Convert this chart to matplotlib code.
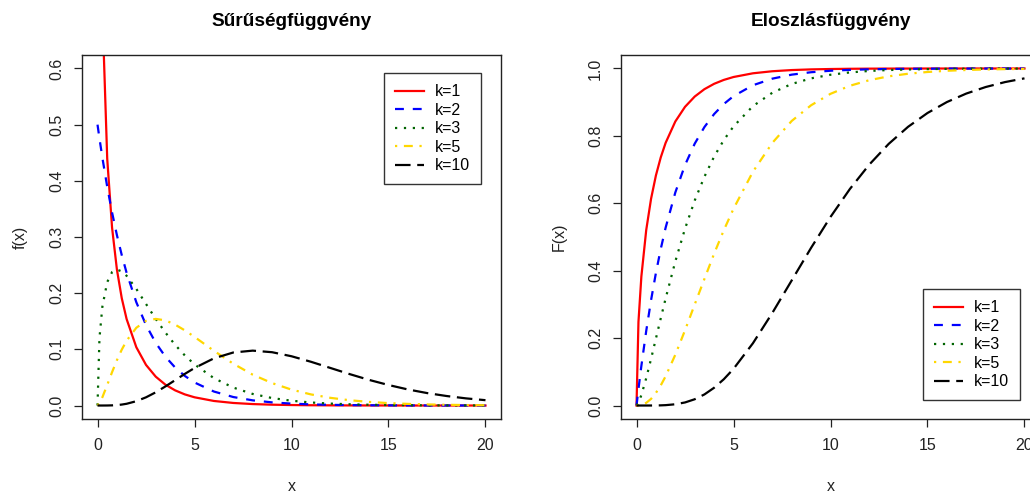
import numpy as np
import matplotlib.pyplot as plt

plt.rcParams['font.family'] = ['Liberation Sans', 'DejaVu Sans']

# x tacke u kojima su ocitane vrednosti sa slike
x = [0, 0.1, 0.25, 0.5, 0.75, 1, 1.25, 1.5, 2, 2.5, 3, 3.5, 4, 4.5, 5,
     6, 7, 8, 9, 10, 11, 12, 13, 14, 15, 16, 17, 18, 19, 20]

# gustina (Sűrűségfüggvény)
f_k1 = [np.nan, 1.200, 0.7041, 0.4394, 0.3166, 0.2420, 0.1910, 0.1539, 0.1038,
        0.0723, 0.0514, 0.0371, 0.0270, 0.0198, 0.01465, 0.0081, 0.00455,
        0.00258, 0.00148, 0.00085, 0.00049, 0.00029, 0.00017, 0.0001,
        0.00006, 0.00003, 0.00002, 0.00001, 0.00001, 0.0]
f_k2 = [0.5, 0.4756, 0.4412, 0.3894, 0.3436, 0.3033, 0.2677, 0.2362, 0.1839,
        0.1433, 0.1116, 0.0869, 0.0677, 0.0527, 0.0410, 0.0249, 0.0151,
        0.0092, 0.0056, 0.0034, 0.0020, 0.0012, 0.00075, 0.00046, 0.00028,
        0.00017, 0.0001, 0.00006, 0.00004, 0.00002]
f_k3 = [0, 0.1200, 0.1760, 0.2197, 0.2375, 0.2420, 0.2388, 0.2309, 0.2076,
        0.1808, 0.1542, 0.1299, 0.1080, 0.0892, 0.0733, 0.0487, 0.0319,
        0.0206, 0.0133, 0.0085, 0.0054, 0.0034, 0.0022, 0.0014, 0.00086,
        0.00053, 0.00034, 0.00021, 0.00013, 0.00008]
f_k5 = [0, 0.0040, 0.0147, 0.0366, 0.0594, 0.0807, 0.0995, 0.1154, 0.1384,
        0.1507, 0.1542, 0.1516, 0.1440, 0.1338, 0.1222, 0.0974, 0.0744,
        0.0549, 0.0399, 0.0283, 0.0198, 0.0137, 0.0094, 0.0064, 0.0043,
        0.0029, 0.0019, 0.0013, 0.0008, 0.0005]
f_k10 = [0, 0, 0, 0.00006, 0.00028, 0.00079, 0.0017, 0.0031, 0.0077,
         0.0146, 0.0235, 0.0340, 0.0451, 0.0563, 0.0668, 0.0840, 0.0944,
         0.0977, 0.0949, 0.0877, 0.0779, 0.0669, 0.0559, 0.0456, 0.0365,
         0.0286, 0.0221, 0.0169, 0.0127, 0.0095]

# eloszlas (Eloszlásfüggvény)
F_k1 = [0, 0.2482, 0.3829, 0.5205, 0.6135, 0.6827, 0.7364, 0.7793, 0.8427,
        0.8862, 0.9167, 0.9386, 0.9545, 0.9661, 0.9747, 0.9857, 0.9918,
        0.9953, 0.9973, 0.9984, 0.9991, 0.9995, 0.9997, 0.9998, 0.9999,
        0.9999, 1.0, 1.0, 1.0, 1.0]
F_k2 = [0, 0.0488, 0.1175, 0.2212, 0.3127, 0.3935, 0.4647, 0.5276, 0.6321,
        0.7135, 0.7769, 0.8262, 0.8647, 0.8946, 0.9179, 0.9502, 0.9698,
        0.9817, 0.9889, 0.9933, 0.9959, 0.9975, 0.9985, 0.9991, 0.9994,
        0.9997, 0.9998, 0.9999, 0.9999, 1.0]
F_k3 = [0, 0.0082, 0.0309, 0.0811, 0.1385, 0.1987, 0.2588, 0.3175, 0.4275,
        0.5246, 0.6083, 0.6788, 0.7385, 0.7877, 0.8281, 0.8883, 0.9280,
        0.9541, 0.9707, 0.9814, 0.9883, 0.9927, 0.9954, 0.9971, 0.9982,
        0.9989, 0.9993, 0.9996, 0.9997, 0.9998]
F_k5 = [0, 0.0002, 0.0016, 0.0079, 0.0197, 0.0374, 0.0598, 0.0867, 0.1507,
        0.2232, 0.2999, 0.3756, 0.4505, 0.5201, 0.5838, 0.6935, 0.7792,
        0.8443, 0.8909, 0.9248, 0.9487, 0.9653, 0.9767, 0.9844, 0.9896,
        0.9932, 0.9955, 0.9971, 0.9981, 0.9987]
F_k10 = [0, 0, 0, 0, 0.00004, 0.0002, 0.0005, 0.0011, 0.0037, 0.0091,
         0.0186, 0.0329, 0.0527, 0.0780, 0.1088, 0.1847, 0.2746, 0.3712,
         0.4679, 0.5595, 0.6425, 0.7149, 0.7763, 0.8270, 0.8679, 0.9004,
         0.9256, 0.9450, 0.9597, 0.9707]

labels = ['k=1', 'k=2', 'k=3', 'k=5', 'k=10']
colors = ['red', 'blue', 'darkgreen', 'gold', 'black']
styles = ['-', (0, (4, 4)), (0, (1, 3)), (0, (1, 3, 4, 3)), (0, (7, 3))]

W, H = 1030, 496
fig = plt.figure(figsize=(W / 100, H / 100), dpi=100)
ax1 = fig.add_axes([82 / W, 77 / H, 419 / W, 364 / H])
ax2 = fig.add_axes([621 / W, 77 / H, 419 / W, 364 / H])    # desni grafik je odsecen


def uredi(ax, ylim, yticks, ylabel, title, leg_xy):
    ax.set_xlim(-0.8, 20.8)
    dy = (ylim[1] - ylim[0]) * 0.04
    ax.set_ylim(ylim[0] - dy, ylim[1] + dy)
    ax.set_xticks([0, 5, 10, 15, 20])
    ax.set_yticks(yticks, ['%.1f' % t for t in yticks], rotation=90, va='center')
    ax.tick_params(direction='out', length=6, width=0.9, labelsize=11.5,
                   colors='#222222')
    ax.tick_params(axis='x', pad=8)
    ax.tick_params(axis='y', pad=7)
    for s in ax.spines.values():
        s.set_linewidth(1.0)
        s.set_color('#222222')
    ax.set_xlabel('x', fontsize=11.5, labelpad=18.5, color='#222222')
    ax.set_ylabel(ylabel, fontsize=11.5, labelpad=15, color='#222222')
    ax.set_title(title, fontsize=13.7, fontweight='bold', pad=21)
    leg = ax.legend(loc='upper left', bbox_to_anchor=(leg_xy[0] / W, 1 - leg_xy[1] / H),
                    bbox_transform=fig.transFigure, borderaxespad=0,
                    fontsize=11.5, fancybox=False, framealpha=1,
                    edgecolor='#333333', handlelength=1.8, handletextpad=0.7,
                    labelspacing=0.22, borderpad=0.7)
    leg.get_frame().set_linewidth(1.0)


for y, lab, c, ls in zip([f_k1, f_k2, f_k3, f_k5, f_k10], labels, colors, styles):
    ax1.plot(x, y, color=c, linestyle=ls, lw=1.6, label=lab)
for y, lab, c, ls in zip([F_k1, F_k2, F_k3, F_k5, F_k10], labels, colors, styles):
    ax2.plot(x, y, color=c, linestyle=ls, lw=1.6, label=lab)

uredi(ax1, (0, 0.6), [0.0, 0.1, 0.2, 0.3, 0.4, 0.5, 0.6], 'f(x)',
      'Sűrűségfüggvény', (384, 73))
uredi(ax2, (0, 1.0), [0.0, 0.2, 0.4, 0.6, 0.8, 1.0], 'F(x)',
      'Eloszlásfüggvény', (923, 289))

plt.savefig('out.png', dpi=100)
